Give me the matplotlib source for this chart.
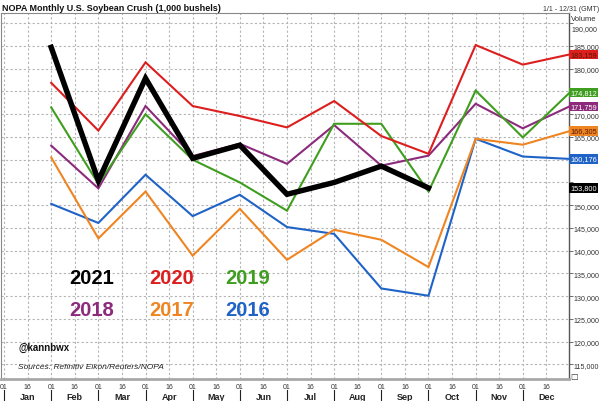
import numpy as np
import matplotlib.pyplot as plt
from matplotlib.lines import Line2D

plt.rcParams['font.family'] = ['Liberation Sans', 'DejaVu Sans']

#data (1,000 bushels), one value per month, plotted at month end
months = ["Jan", "Feb", "Mar", "Apr", "May", "Jun", "Jul", "Aug", "Sep", "Oct", "Nov", "Dec"]
y2021 = [184700, 155400, 177900, 160300, 163200, 152400, 155000, 158600, 153800]
y2020 = [176900, 166400, 181400, 171800, 169600, 167100, 172900, 165200, 161300, 185200, 180900, 183159]
y2019 = [171500, 154700, 170000, 160000, 155000, 148800, 167900, 167900, 153000, 175200, 164900, 174812]
y2018 = [163100, 153700, 171800, 160800, 163500, 159100, 167600, 158700, 160900, 172300, 166900, 171759]
y2017 = [160500, 142700, 153000, 138900, 149200, 138000, 144600, 142400, 136400, 164600, 163300, 166305]
y2016 = [150300, 146100, 156700, 147600, 152300, 145200, 143700, 131700, 130100, 164600, 160700, 160176]
yticks = list(range(115000, 190001, 5000))

series = [("2021", y2021, "#000000", 3.9),
          ("2020", y2020, "#dc1e1e", 1.5),
          ("2019", y2019, "#3f9e1f", 1.5),
          ("2018", y2018, "#8c2a7c", 1.5),
          ("2017", y2017, "#ef8522", 1.5),
          ("2016", y2016, "#1f63c6", 1.5)]

fig = plt.figure(figsize=(6, 4.02), dpi=100)
ax = fig.add_axes([0.0017, 0.0547, 0.9467, 0.9105])
ax.set_xlim(-0.064, 11.98)
ax.set_ylim(111800, 192250)

#grid
for v in yticks:
    ax.axhline(v, color="#b4b4b4", lw=0.8, ls=(0, (2, 2)), zorder=0)
for xv in np.arange(0, 12, 0.5):
    ax.axvline(xv, color="#b4b4b4", lw=0.8, ls=(0, (2, 2)), zorder=0)

#lines, drawn back to front
for name, vals, col, lw in series[::-1]:
    x = np.arange(1, len(vals) + 1)
    ax.plot(x, vals, color=col, lw=lw, solid_joinstyle="miter", zorder=3)

#spines
for s in ["left", "top"]:
    ax.spines[s].set_color("#888888")
    ax.spines[s].set_linewidth(0.8)
ax.spines["bottom"].set_color("#a8a8a8")
ax.spines["bottom"].set_linewidth(2)
ax.spines["right"].set_color("#555555")
ax.spines["right"].set_linewidth(1)

#right axis ticks (labels hidden where the value boxes cover them)
hidden = [190000, 175000, 160000, 155000]
ax.yaxis.tick_right()
ax.set_yticks(yticks)
ax.set_yticklabels(["{:,}".format(v) if v not in hidden else "" for v in yticks])
ax.tick_params(axis="y", labelsize=5.1, labelcolor="#333333", length=3, width=0.6,
               color="#555555", pad=0.5)
ax.text(1.004, 190000 - 1100, "190,000", transform=ax.get_yaxis_transform(),
        fontsize=5.1, color="#333333", va="center", ha="left")

#x ticks: 01 and 16 of each month
ax.set_xticks(np.arange(0, 12))
ax.set_xticklabels(["01"] * 12)
ax.set_xticks(np.arange(0.5, 12, 0.5)[::2], minor=True)
ax.set_xticklabels(["16"] * 12, minor=True)
ax.tick_params(axis="x", which="both", length=0, labelsize=5, labelcolor="#333333", pad=3)

tr = ax.get_xaxis_transform()
for i, m in enumerate(months):
    ax.text(i + 0.5, -0.047, m, transform=tr, fontsize=6.5, fontweight="bold",
            color="#222222", ha="center", va="center")
    ax.add_line(Line2D([i, i], [-0.030, -0.062], transform=tr, color="#222222",
                       lw=0.8, clip_on=False))

#value boxes on right axis
for name, vals, col, lw in series:
    tcol = "white"
    if name in ("2020", "2017"):
        tcol = "#5a1a00"
    ax.text(1.002, vals[-1], "{:,}".format(vals[-1]), transform=ax.get_yaxis_transform(),
            fontsize=5.3, color=tcol, va="center", ha="left", zorder=5,
            bbox=dict(boxstyle="square,pad=0.15", fc=col, ec="none"))

#year legend as big text
legend_x = [0.16, 0.30, 0.435]
for i, (name, vals, col, lw) in enumerate(series):
    ax.text(legend_x[i % 3], 0.278 - 0.088 * (i // 3), name, transform=ax.transAxes,
            fontsize=14.5, fontweight="bold", color=col, ha="center", va="center")

ax.text(0.030, 0.088, "@kannbwx", transform=ax.transAxes, fontsize=7,
        fontweight="bold", color="#111111", va="center")
ax.text(0.030, 0.035, "Sources: Refinitiv Eikon/Reuters/NOPA", transform=ax.transAxes,
        fontsize=6, style="italic", color="#222222", va="center")

#header texts
fig.text(0.004, 0.978, "NOPA Monthly U.S. Soybean Crush (1,000 bushels)", fontsize=6.5,
         fontweight="bold", color="#111111", va="center", ha="left")
fig.text(0.998, 0.976, "1/1 - 12/31 (GMT)", fontsize=5, color="#333333", va="center", ha="right")
fig.text(0.952, 0.951, "Volume", fontsize=5.5, color="#333333", va="center", ha="left")

#small box at bottom right
fig.text(0.951, 0.058, "\u2610", fontsize=6, color="#333333", va="center", ha="left")

plt.savefig("out.png", dpi=100)
